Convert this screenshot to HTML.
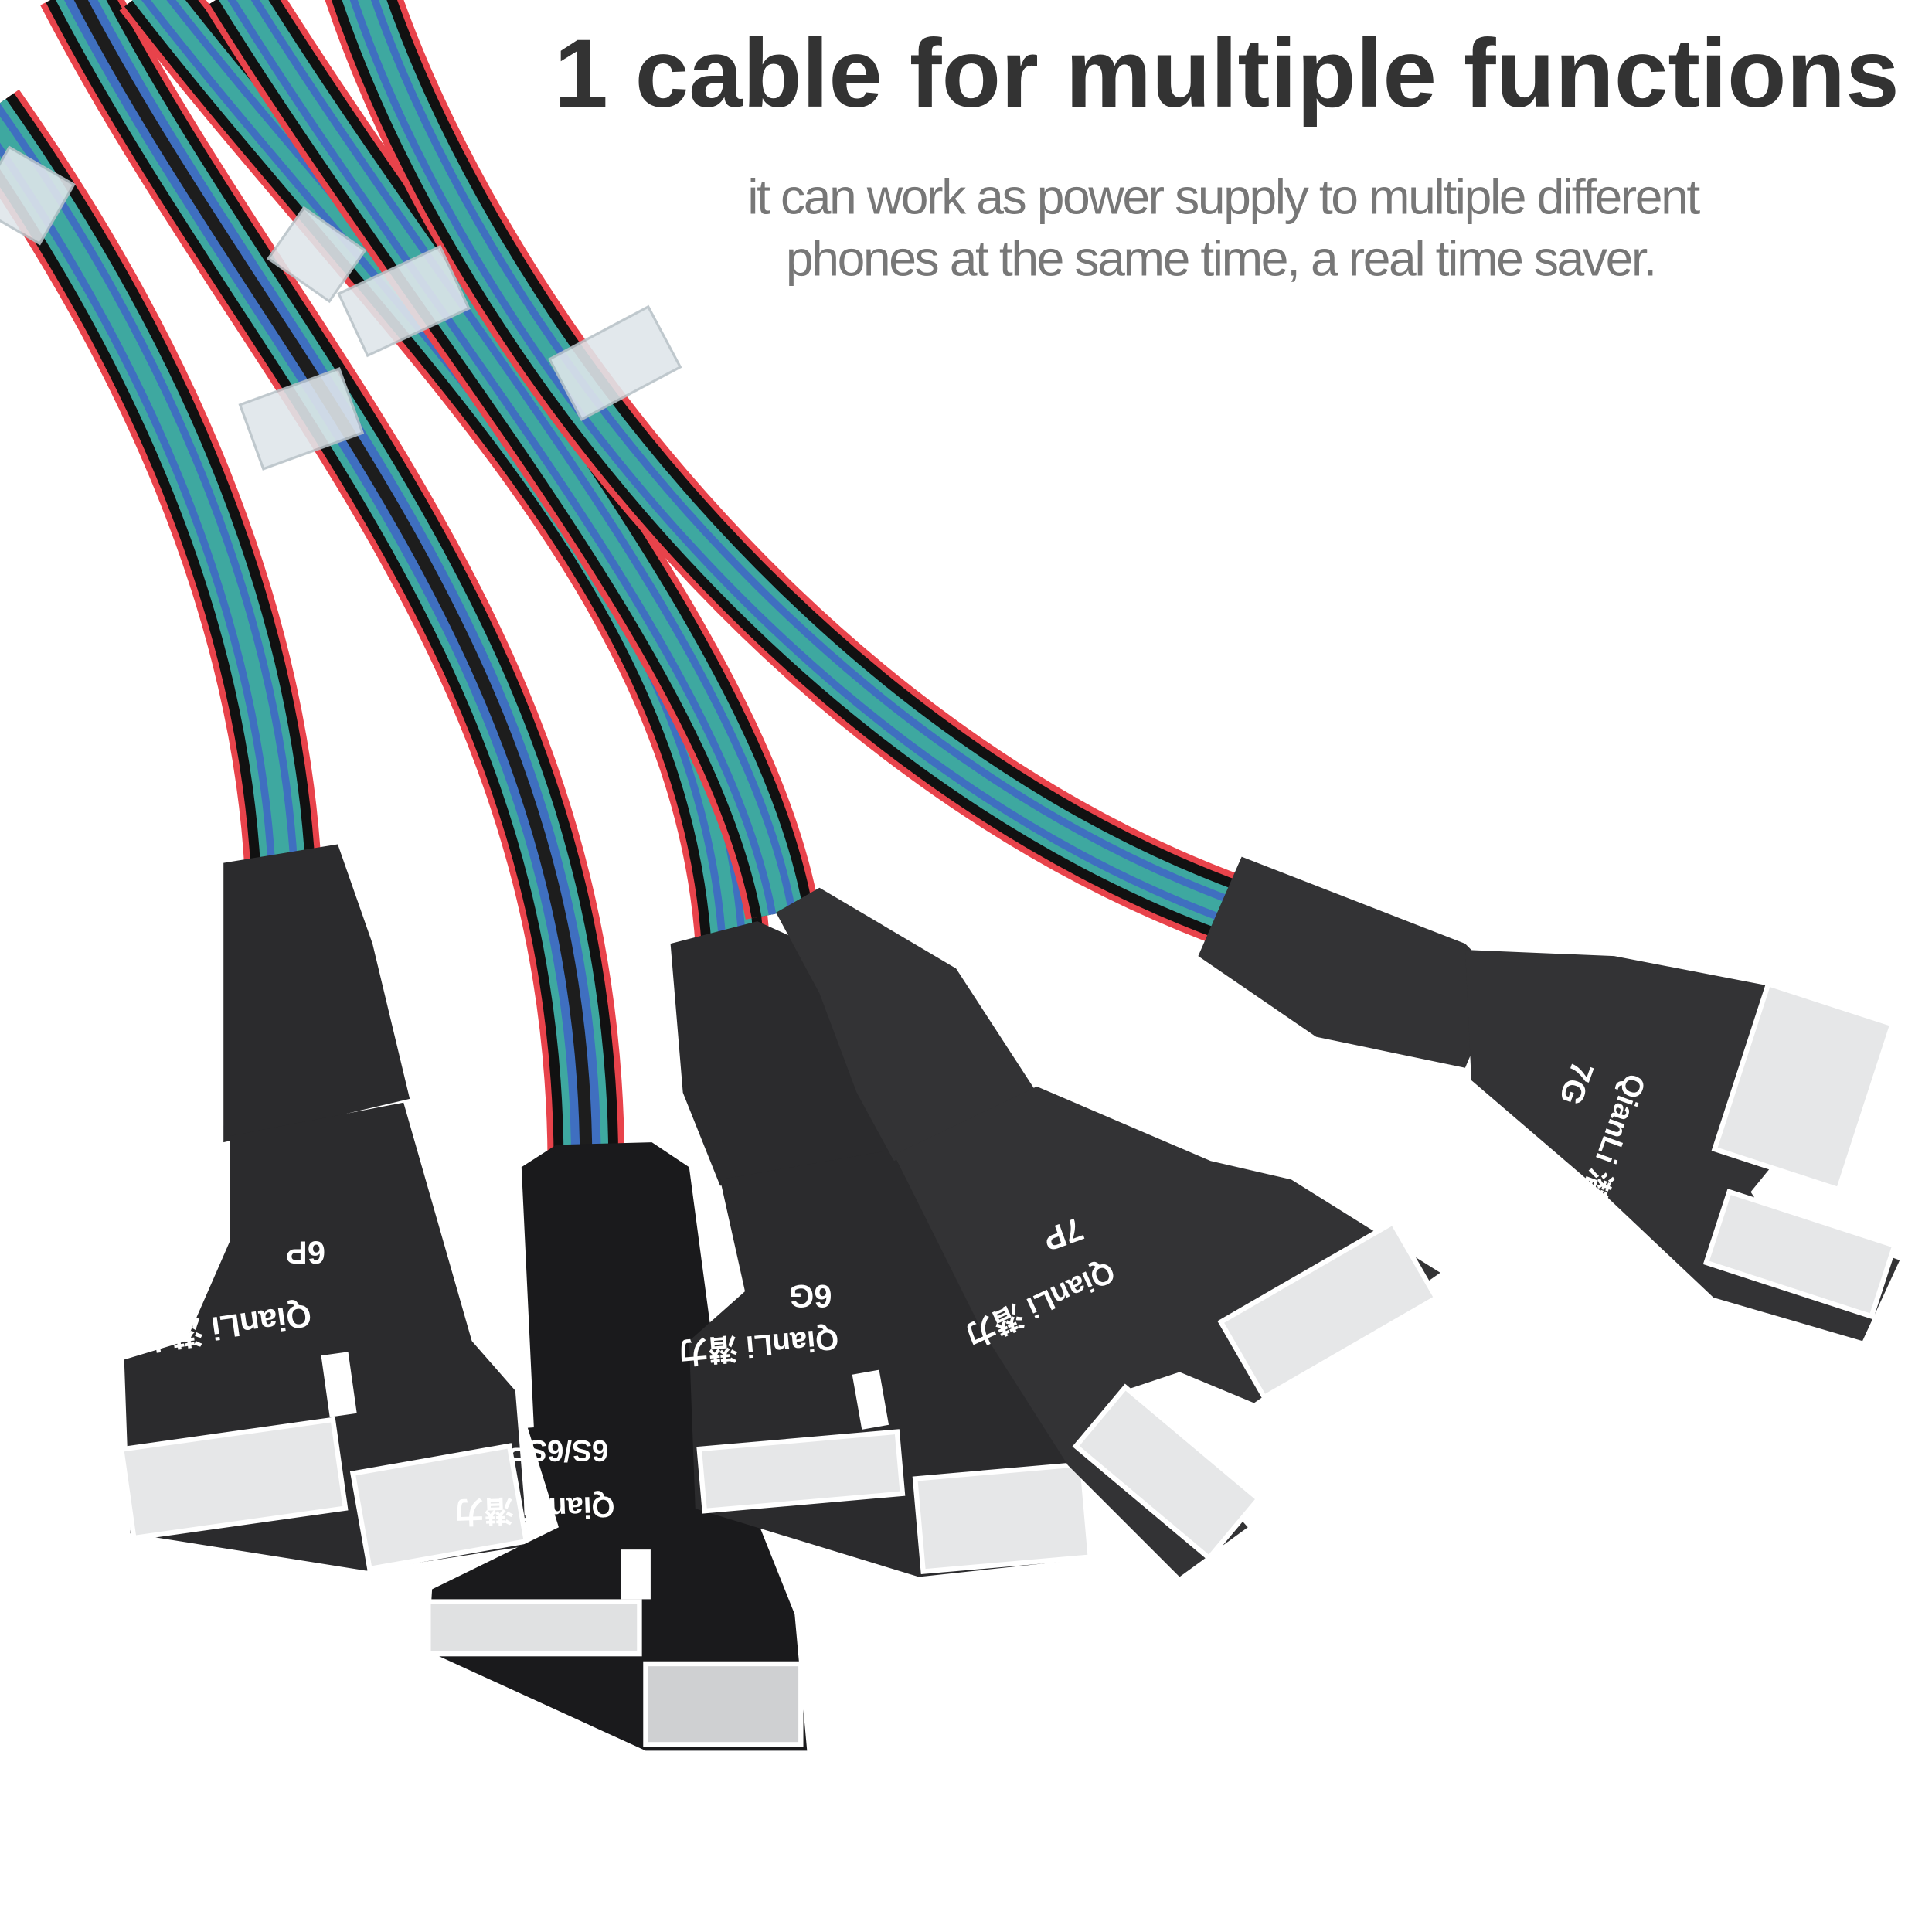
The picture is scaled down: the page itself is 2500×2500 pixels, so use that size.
<!DOCTYPE html>
<html><head><meta charset="utf-8"><style>
html,body{margin:0;padding:0;background:#fff;}
svg{display:block;}
</style></head><body>
<svg width="2500" height="2500" viewBox="0 0 1556 1556" xmlns="http://www.w3.org/2000/svg">
<rect width="1556" height="1556" fill="#fff"/>
<defs>
<g id="c1"><path d="M290,-10 C380,260 650,610 995,735"/></g>
<g id="c2"><path d="M-10,90 C110,260 215,470 228,700"/></g>
<g id="c3"><path d="M60,-10 C220,300 470,520 472,935"/></g>
<g id="c4"><path d="M120,-10 C320,250 570,460 590,760"/></g>
<g id="c5"><path d="M190,-10 C350,250 590,520 630,735"/></g>
</defs>
<g fill="none" stroke-linecap="butt">
<g>
<use href="#c2" stroke="#e8434b" stroke-width="62"/><use href="#c2" stroke="#111" stroke-width="52"/><use href="#c2" stroke="#3ea8a0" stroke-width="36"/><use href="#c2" stroke="#3f6fc0" stroke-width="24"/><use href="#c2" stroke="#3ea8a0" stroke-width="12"/>
</g>
<g>
<use href="#c3" stroke="#e8434b" stroke-width="62"/><use href="#c3" stroke="#111" stroke-width="52"/><use href="#c3" stroke="#3ea8a0" stroke-width="36"/><use href="#c3" stroke="#3f6fc0" stroke-width="24"/><use href="#c3" stroke="#1d1d1d" stroke-width="10"/>
</g>
<g>
<use href="#c4" stroke="#e8434b" stroke-width="60"/><use href="#c4" stroke="#111" stroke-width="50"/><use href="#c4" stroke="#3ea8a0" stroke-width="34"/><use href="#c4" stroke="#3f6fc0" stroke-width="22"/><use href="#c4" stroke="#3ea8a0" stroke-width="10"/>
</g>
<g>
<use href="#c5" stroke="#e8434b" stroke-width="60"/><use href="#c5" stroke="#111" stroke-width="50"/><use href="#c5" stroke="#3ea8a0" stroke-width="34"/><use href="#c5" stroke="#3f6fc0" stroke-width="22"/><use href="#c5" stroke="#3ea8a0" stroke-width="10"/>
</g>
<g>
<use href="#c1" stroke="#e8434b" stroke-width="60"/><use href="#c1" stroke="#111" stroke-width="50"/><use href="#c1" stroke="#3ea8a0" stroke-width="34"/><use href="#c1" stroke="#3f6fc0" stroke-width="22"/><use href="#c1" stroke="#3ea8a0" stroke-width="10"/>
</g>
</g>
<g fill="#dfe6ea" stroke="#b8c2c8" stroke-width="2" opacity="0.9">
<rect x="450" y="265" width="90" height="55" transform="rotate(-28 495 292)"/>
<rect x="280" y="215" width="90" height="55" transform="rotate(-25 325 242)"/>
<rect x="200" y="310" width="85" height="55" transform="rotate(-20 242 337)"/>
<rect x="225" y="180" width="60" height="50" transform="rotate(35 255 205)"/>
<rect x="-10" y="130" width="60" height="55" transform="rotate(30 20 157)"/>
</g>
<g fill="#2b2b2d">
<path d="M180,695 L272,680 L300,760 L330,885 L180,920 Z"/>
<path d="M185,915 L325,888 L380,1080 L415,1120 L425,1245 L295,1265 L105,1235 L100,1095 L150,1080 L185,1000 Z"/>
</g>
<g fill="#e6e7e8" stroke="#fff" stroke-width="4">
<rect x="102" y="1155" width="172" height="72" transform="rotate(-8 188 1191)"/>
<rect x="290" y="1175" width="128" height="78" transform="rotate(-10 354 1214)"/>
</g>
<rect x="262" y="1090" width="22" height="50" fill="#fff" transform="rotate(-8 273 1115)"/>
<g fill="#1a1a1c">
<path d="M420,940 L448,922 L525,920 L555,940 L575,1090 L565,1145 L430,1150 Z"/>
<path d="M425,1150 L560,1140 L600,1200 L640,1300 L650,1410 L520,1410 L345,1330 L348,1280 L450,1230 Z"/>
</g>
<g fill="#e0e1e2" stroke="#fff" stroke-width="4">
<rect x="345" y="1290" width="170" height="42"/>
<rect x="520" y="1340" width="125" height="65" fill="#cfd0d2"/>
</g>
<rect x="500" y="1248" width="24" height="40" fill="#fff"/>
<g fill="#2b2b2d">
<path d="M540,760 L610,742 L650,760 L700,800 L725,930 L580,955 L550,880 Z"/>
<path d="M580,950 L725,925 L790,1070 L855,1150 L880,1255 L740,1270 L560,1215 L555,1080 L600,1040 Z"/>
</g>
<g fill="#e6e7e8" stroke="#fff" stroke-width="4">
<rect x="565" y="1160" width="160" height="50" transform="rotate(-5 645 1185)"/>
<rect x="740" y="1185" width="135" height="75" transform="rotate(-5 807 1222)"/>
</g>
<rect x="690" y="1105" width="22" height="45" fill="#fff" transform="rotate(-10 700 1127)"/>
<g fill="#333335">
<path d="M625,735 L660,715 L770,780 L835,880 L720,935 L690,880 L660,800 Z"/>
<path d="M720,930 L835,875 L975,935 L1040,950 L1160,1025 L1010,1130 L950,1105 L905,1120 L1005,1230 L950,1270 L860,1180 L790,1070 Z"/>
</g>
<g fill="#e6e7e8" stroke="#fff" stroke-width="4">
<rect x="990" y="1020" width="160" height="70" transform="rotate(-30 1070 1055)"/>
<rect x="870" y="1155" width="140" height="62" transform="rotate(40 940 1186)"/>
</g>
<g fill="#333335">
<path d="M1000,690 L1180,760 L1210,790 L1180,860 L1060,835 L965,770 Z"/>
<path d="M1180,765 L1300,770 L1430,795 L1520,825 L1410,960 L1420,975 L1530,1015 L1500,1080 L1380,1045 L1290,960 L1185,870 Z"/>
</g>
<g fill="#e6e7e8" stroke="#fff" stroke-width="4">
<rect x="1400" y="805" width="105" height="140" transform="rotate(18 1452 875)"/>
<rect x="1380" y="980" width="140" height="60" transform="rotate(18 1450 1010)"/>
</g>
<g fill="#fff" font-family="Liberation Sans, 'Noto Sans CJK SC', sans-serif" font-weight="bold">
<text x="262" y="1010" font-size="26" transform="rotate(180 262 1005)">6P</text>
<text x="250" y="1060" font-size="26" transform="rotate(172 250 1055)">QianLi 潜力</text>
<text x="490" y="1170" font-size="24" transform="rotate(180 490 1165)">6S/6SP</text>
<text x="495" y="1215" font-size="24" transform="rotate(178 495 1210)">QianLi 潜力</text>
<text x="670" y="1045" font-size="26" transform="rotate(180 670 1040)">6G</text>
<text x="675" y="1080" font-size="24" transform="rotate(175 675 1075)">QianLi 潜力</text>
<text x="870" y="990" font-size="26" transform="rotate(160 870 985)">7P</text>
<text x="895" y="1025" font-size="24" transform="rotate(155 895 1020)">QianLi 潜力</text>
<text x="1272" y="860" font-size="26" transform="rotate(110 1272 855)">7G</text>
<text x="1315" y="870" font-size="24" transform="rotate(110 1315 865)">QianLi 潜力</text>
</g>
<text x="988" y="86" text-anchor="middle" font-family="Liberation Sans, sans-serif" font-weight="bold" font-size="78" fill="#333">1 cable for multiple functions</text>
<g font-family="Liberation Sans, sans-serif" font-size="40" fill="#777" text-anchor="middle" letter-spacing="-1.5">
<text x="985" y="172">it can work as power supply to multiple different</text>
<text x="983" y="222">phones at the same time, a real time saver.</text>
</g>
</svg>
</body></html>
